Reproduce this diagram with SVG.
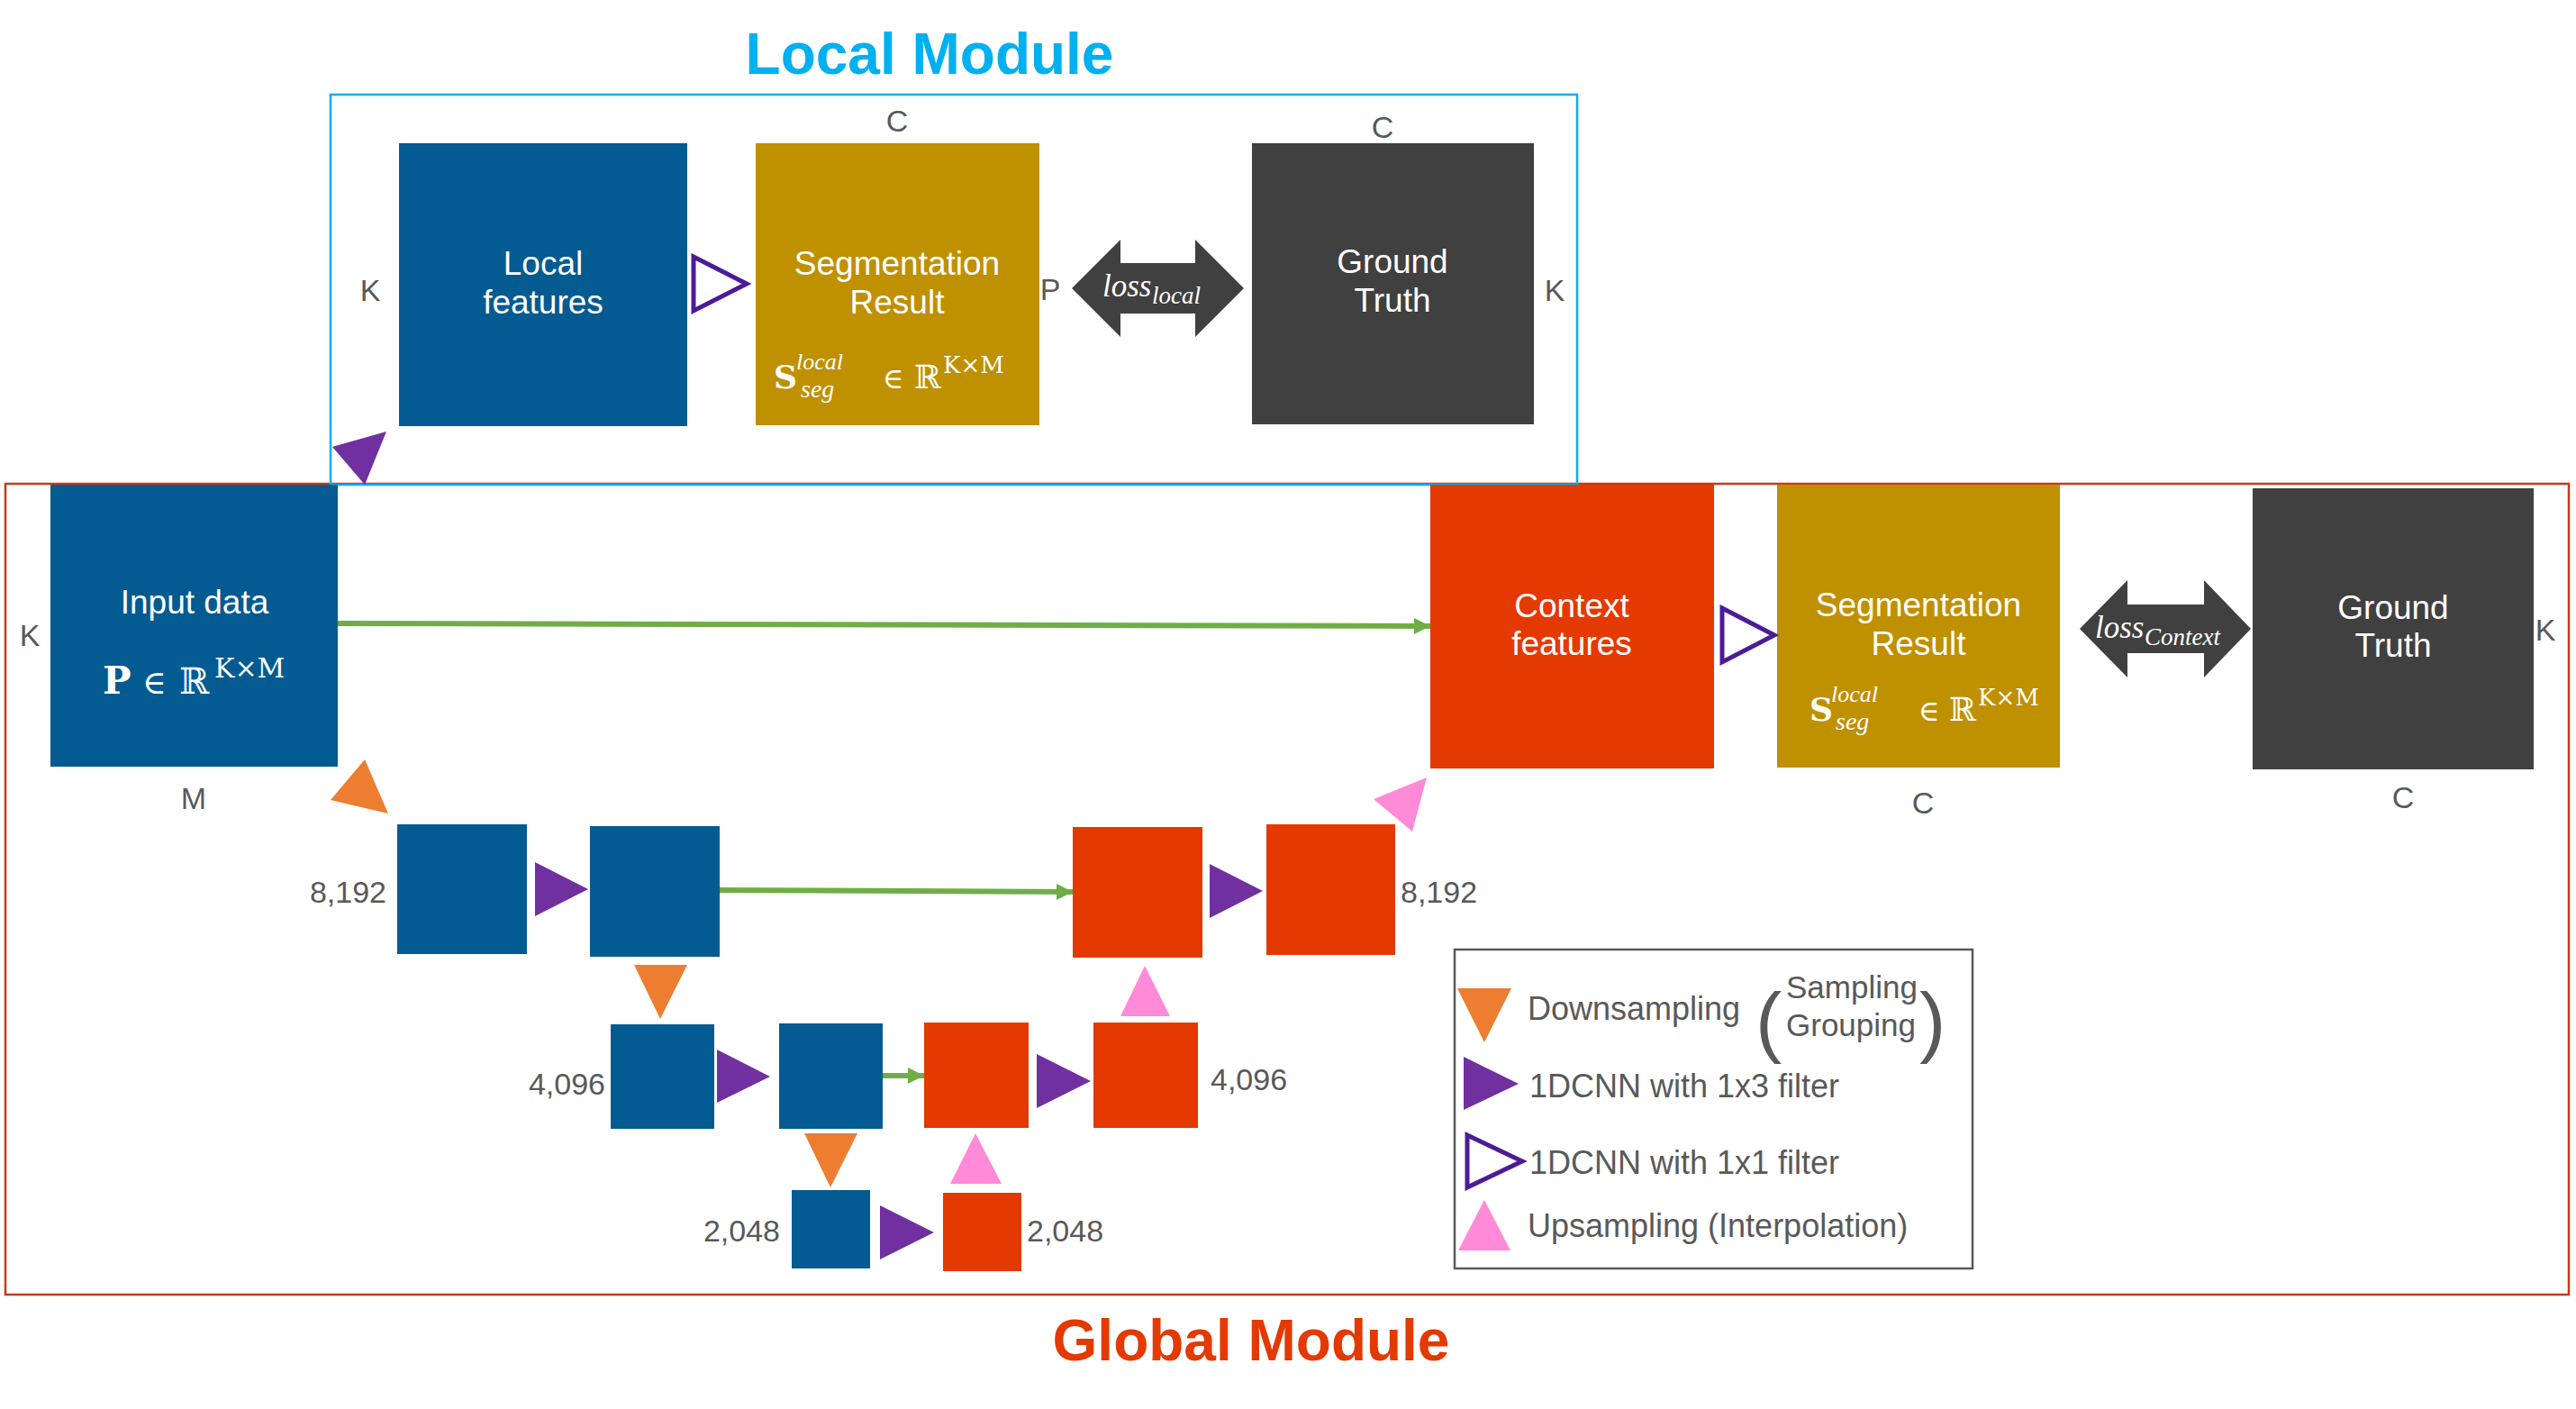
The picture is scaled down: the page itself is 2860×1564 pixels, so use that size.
<svg xmlns="http://www.w3.org/2000/svg" width="2860" height="1564" viewBox="0 0 2860 1564">
<defs>
<style>
.blue{fill:#035B91}
.red{fill:#E43900}
.gold{fill:#BF9000}
.dark{fill:#404040}
.conv{fill:#7030A0}
.conv1{fill:none;stroke:#4B1C96;stroke-width:5}
.down{fill:#ED7D31}
.up{fill:#FF8AD8}
.lbl{font-family:"Liberation Sans",Arial,sans-serif;font-size:34px;fill:#595959}
.in{font-family:"Liberation Sans",Arial,sans-serif;font-size:37px;fill:#ffffff;text-anchor:middle}
.math{font-family:"DejaVu Serif","Liberation Serif",serif;fill:#ffffff}
.mi{font-family:"Liberation Serif","DejaVu Serif",serif;font-style:italic;fill:#ffffff}
.leg{font-family:"Liberation Sans",Arial,sans-serif;fill:#595959}
.skip{stroke:#70AD47;stroke-width:6;fill:none}
</style>
<marker id="ah" markerUnits="userSpaceOnUse" markerWidth="20" markerHeight="18" refX="18" refY="9" orient="auto">
<polygon points="0,0 18,9 0,18" fill="#70AD47"/>
</marker>
</defs>
<rect width="2860" height="1564" fill="#ffffff"/>

<!-- Titles -->
<text x="1032" y="82" font-family="Liberation Sans,Arial,sans-serif" font-weight="bold" font-size="64" fill="#00B0F0" text-anchor="middle">Local Module</text>
<text x="1389" y="1510" font-family="Liberation Sans,Arial,sans-serif" font-weight="bold" font-size="64" fill="#E43900" text-anchor="middle">Global Module</text>

<!-- Frames -->
<rect id="global-frame" x="6" y="537" width="2846" height="900" fill="none" stroke="#C8381A" stroke-width="2.5"/>
<rect id="local-frame" x="367" y="105" width="1384" height="433" fill="none" stroke="#00B0F0" stroke-width="2.5"/>

<!-- Local module -->
<g id="local-features">
<rect class="blue" x="443" y="159" width="320" height="314"/>
<text class="in" x="603" y="305">Local</text>
<text class="in" x="603" y="348">features</text>
</g>
<g id="local-seg">
<rect class="gold" x="839" y="159" width="315" height="313"/>
<text class="in" x="996" y="305">Segmentation</text>
<text class="in" x="996" y="348">Result</text>
<text class="math" x="859" y="431" font-size="36" font-weight="bold">S</text>
<text class="mi" x="884" y="410" font-size="26">local</text>
<text class="mi" x="889" y="441" font-size="28">seg</text>
<text class="math" x="980" y="431" font-size="32">∈</text>
<text class="math" x="1015" y="431" font-size="36">ℝ</text>
<text class="math" x="1047" y="414" font-size="26">K×M</text>
</g>
<g id="local-gt">
<rect class="dark" x="1390" y="159" width="313" height="312"/>
<text class="in" x="1546" y="303">Ground</text>
<text class="in" x="1546" y="346">Truth</text>
</g>
<g id="local-loss">
<polygon class="dark" points="1190,320 1244,266 1244,292 1327,292 1327,266 1381,320 1327,374 1327,348 1244,348 1244,374"/>
<text class="mi" x="1224" y="329" font-size="35">loss</text>
<text class="mi" x="1279" y="337" font-size="27">local</text>
</g>
<text class="lbl" x="996" y="146" text-anchor="middle">C</text>
<text class="lbl" x="1535" y="153" text-anchor="middle">C</text>
<text class="lbl" x="411" y="334" text-anchor="middle">K</text>
<text class="lbl" x="1166" y="333" text-anchor="middle">P</text>
<text class="lbl" x="1726" y="334" text-anchor="middle">K</text>

<!-- Global module -->
<g id="input-data">
<rect class="blue" x="56" y="538" width="319" height="313"/>
<text class="in" x="216" y="681">Input data</text>
<text class="math" x="114" y="770" font-size="42" font-weight="bold">P</text>
<text class="math" x="158" y="770" font-size="36">∈</text>
<text class="math" x="199" y="770" font-size="40">ℝ</text>
<text class="math" x="238" y="752" font-size="30">K×M</text>
</g>
<text class="lbl" x="33" y="717" text-anchor="middle">K</text>
<text class="lbl" x="215" y="898" text-anchor="middle">M</text>

<g id="context-features">
<rect class="red" x="1588" y="538" width="315" height="315"/>
<text class="in" x="1745" y="685">Context</text>
<text class="in" x="1745" y="727">features</text>
</g>
<g id="global-seg">
<rect class="gold" x="1973" y="538" width="314" height="314"/>
<text class="in" x="2130" y="684">Segmentation</text>
<text class="in" x="2130" y="727">Result</text>
<text class="math" x="2009" y="800" font-size="36" font-weight="bold">S</text>
<text class="mi" x="2033" y="779" font-size="26">local</text>
<text class="mi" x="2038" y="810" font-size="28">seg</text>
<text class="math" x="2130" y="800" font-size="32">∈</text>
<text class="math" x="2164" y="800" font-size="36">ℝ</text>
<text class="math" x="2196" y="783" font-size="26">K×M</text>
</g>
<g id="global-gt">
<rect class="dark" x="2501" y="542" width="312" height="312"/>
<text class="in" x="2657" y="687">Ground</text>
<text class="in" x="2657" y="729">Truth</text>
</g>
<g id="context-loss">
<polygon class="dark" points="2309,698 2362,644 2362,671 2447,671 2447,644 2499,698 2447,752 2447,725 2362,725 2362,752"/>
<text class="mi" x="2326" y="708" font-size="35">loss</text>
<text class="mi" x="2381" y="716" font-size="27">Context</text>
</g>
<text class="lbl" x="2135" y="903" text-anchor="middle">C</text>
<text class="lbl" x="2668" y="897" text-anchor="middle">C</text>
<text class="lbl" x="2826" y="711" text-anchor="middle">K</text>

<!-- Encoder / decoder blocks -->
<g id="enc1a"><rect class="blue" x="441" y="915" width="144" height="144"/></g>
<g id="enc1b"><rect class="blue" x="655" y="917" width="144" height="145"/></g>
<g id="dec1a"><rect class="red" x="1191" y="918" width="144" height="145"/></g>
<g id="dec1b"><rect class="red" x="1406" y="915" width="143" height="145"/></g>
<g id="enc2a"><rect class="blue" x="678" y="1137" width="115" height="116"/></g>
<g id="enc2b"><rect class="blue" x="865" y="1136" width="115" height="117"/></g>
<g id="dec2a"><rect class="red" x="1026" y="1135" width="116" height="117"/></g>
<g id="dec2b"><rect class="red" x="1214" y="1135" width="116" height="117"/></g>
<g id="enc3"><rect class="blue" x="879" y="1321" width="87" height="87"/></g>
<g id="dec3"><rect class="red" x="1047" y="1324" width="87" height="87"/></g>

<text class="lbl" x="429" y="1002" text-anchor="end">8,192</text>
<text class="lbl" x="1555" y="1002">8,192</text>
<text class="lbl" x="672" y="1215" text-anchor="end">4,096</text>
<text class="lbl" x="1344" y="1210">4,096</text>
<text class="lbl" x="866" y="1378" text-anchor="end">2,048</text>
<text class="lbl" x="1140" y="1378">2,048</text>

<!-- Connectors / operators -->
<g id="connectors">
<line class="skip" x1="375" y1="692" x2="1588" y2="695" marker-end="url(#ah)"/>
<line class="skip" x1="799" y1="988" x2="1191" y2="990" marker-end="url(#ah)"/>
<line class="skip" x1="980" y1="1194" x2="1026" y2="1194" marker-end="url(#ah)"/>
<polygon class="conv1" points="770,285 829,315 770,345"/>
<polygon class="conv1" points="1912,675 1970,705 1912,735"/>
<polygon class="conv" points="429,479 369,496 405,538"/>
<polygon class="down" points="405,843 367,888 431,903"/>
<polygon class="up" points="1584,863 1525,887 1568,923"/>
<polygon class="conv" points="594,957 653,987 594,1017"/>
<polygon class="conv" points="1343,959 1402,989 1343,1019"/>
<polygon class="down" points="704,1071 763,1071 733,1131"/>
<polygon class="up" points="1271,1072 1244,1128 1299,1128"/>
<polygon class="conv" points="796,1165 855,1195 796,1224"/>
<polygon class="conv" points="1151,1170 1211,1200 1151,1230"/>
<polygon class="down" points="893,1258 952,1258 922,1318"/>
<polygon class="up" points="1083,1258 1055,1314 1112,1314"/>
<polygon class="conv" points="977,1338 1037,1368 977,1398"/>
</g>

<!-- Legend -->
<g id="legend">
<rect x="1615" y="1054" width="575" height="354" fill="#ffffff" stroke="#595959" stroke-width="2.5"/>
<polygon class="down" points="1618,1097 1678,1097 1648,1157"/>
<text class="leg" x="1696" y="1132" font-size="36">Downsampling</text>
<text class="leg" x="1949" y="1163" font-size="88">(</text>
<text class="leg" x="1983" y="1108" font-size="35">Sampling</text>
<text class="leg" x="1983" y="1150" font-size="35">Grouping</text>
<text class="leg" x="2131" y="1163" font-size="88">)</text>
<polygon class="conv" points="1625,1173 1686,1203 1625,1232"/>
<text class="leg" x="1698" y="1218" font-size="36">1DCNN with 1x3 filter</text>
<polygon class="conv1" points="1629,1260 1690,1289 1629,1318"/>
<text class="leg" x="1698" y="1303" font-size="36">1DCNN with 1x1 filter</text>
<polygon class="up" points="1648,1332 1619,1388 1677,1388"/>
<text class="leg" x="1696" y="1373" font-size="36">Upsampling (Interpolation)</text>
</g>
</svg>
